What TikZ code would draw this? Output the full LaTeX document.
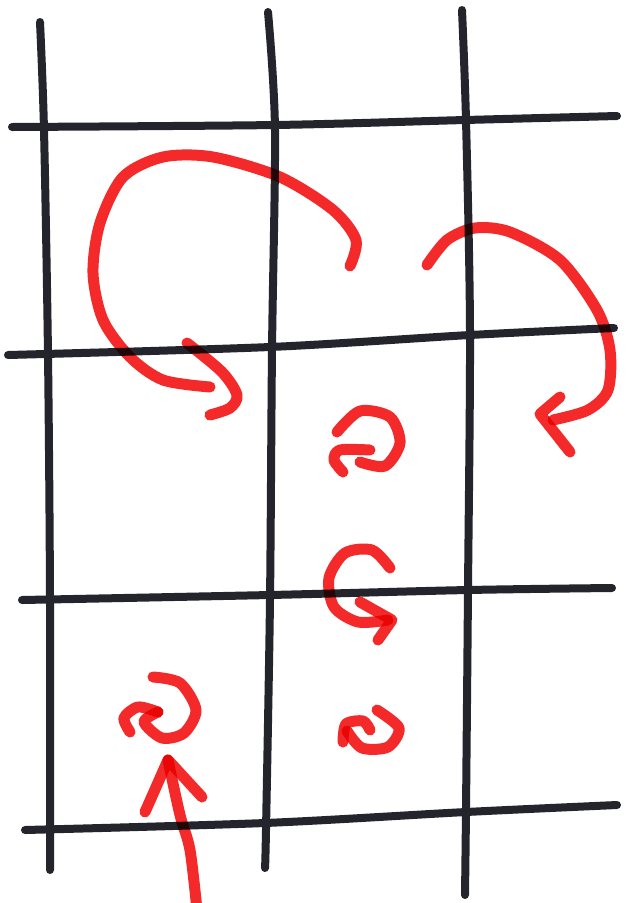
\documentclass[tikz,border=0pt]{standalone}
\usetikzlibrary{calc}
\definecolor{ink}{HTML}{24242C}
\definecolor{pen}{HTML}{F42A2A}

\begin{document}
\begin{tikzpicture}[x=1pt, y=-1pt,
  gridline/.style={draw=ink, line width=8pt, line cap=round, line join=round},
  marker/.style={draw=pen, line width=11pt, line cap=round, line join=round},
]
  \useasboundingbox[fill=white] (0,0) rectangle (626,903);
  % grid, columns
  \draw[gridline] plot[smooth] coordinates {(40,22) (44,130) (48,355) (50,600) (50,870)};
  \draw[gridline] plot[smooth] coordinates {(268,12) (275,130) (272,350) (270,600) (266,830) (265,868)};
  \draw[gridline] plot[smooth] coordinates {(462,10) (466,120) (470,330) (468,590) (466,810) (465,895)};
  % grid, rows
  \draw[gridline] plot[smooth] coordinates {(12,127) (275,125) (465,120) (617,116)};
  \draw[gridline] plot[smooth] coordinates {(8,355) (270,347) (470,335) (614,328)};
  \draw[gridline] plot[smooth] coordinates {(22,600) (270,595) (468,590) (612,588)};
  \draw[gridline] plot[smooth] coordinates {(25,830) (265,823) (466,812) (617,805)};
  \begin{scope}[blend mode=multiply]
    % big loop, top left
    \draw[marker] plot[smooth] coordinates {(350,266) (356,240) (333,210) (280,177) (213,157) (163,157) (123,177) (100,223) (93,273) (103,320) (130,357) (163,380) (210,387)};
    \draw[marker] plot[smooth] coordinates {(187,343) (222,372) (237,395) (230,408) (210,415)};
    % big loop, top right
    \draw[marker] plot[smooth] coordinates {(427,265) (447,240) (475,228) (510,232) (560,260) (597,310) (610,350) (608,390) (588,410) (553,420)};
    \draw[marker] (560,397) -- (540,414) -- (570,452);
    % small curls
    \draw[marker] plot[smooth] coordinates {(337,432) (360,411) (390,417) (400,443) (385,466) (360,462)};
    \draw[marker] plot[smooth] coordinates {(370,450) (340,450) (334,460) (343,472)};
    \draw[marker] plot[smooth] coordinates {(390,568) (372,550) (345,553) (329,578) (334,607) (358,622) (388,620)};
    \draw[marker] (360,602) -- (392,620) -- (378,640);
    \draw[marker] plot[smooth] coordinates {(153,677) (180,683) (196,710) (184,733) (162,738) (144,722) (158,712)};
    \draw[marker] plot[smooth] coordinates {(158,712) (138,707) (124,718) (130,732)};
    \draw[marker] plot[smooth] coordinates {(343,742) (346,724) (363,721) (370,730)};
    \draw[marker] plot[smooth] coordinates {(347,731) (362,748) (388,747) (399,728) (377,710)};
    % arrow from below
    \draw[marker] plot[smooth] coordinates {(197,910) (190,850) (180,815) (168,760)};
    \draw[marker] (145,812) -- (168,760) -- (202,797);
  \end{scope}
\end{tikzpicture}
\end{document}
